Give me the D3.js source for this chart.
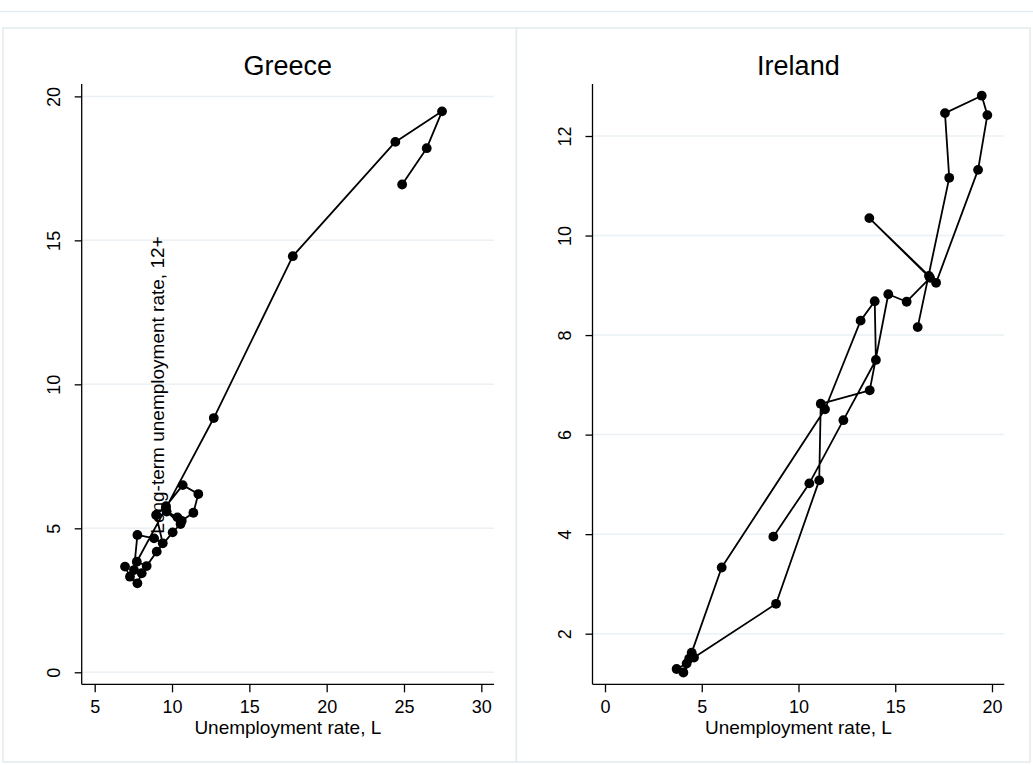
<!DOCTYPE html>
<html>
<head>
<meta charset="utf-8">
<script src="https://cdn.jsdelivr.net/npm/d3@7"></script>
<style>
  html, body { margin: 0; padding: 0; background: #ffffff; }
  svg { display: block; }
  text { font-family: "Liberation Sans", Arial, Helvetica, sans-serif; fill: #000; }
</style>
</head>
<body>
<svg id="chart" width="1033" height="765"></svg>
<script>
// Long-term unemployment (12+ months) against lagged unemployment rate
const greeceUnemp = [6.96, 7.28, 7.76, 8.04, 7.54, 7.76, 8.84, 9.40, 8.97, 9.61, 10.69, 11.70, 11.38, 10.63, 10.35, 9.65, 10.55, 10.04, 9.01, 8.36, 7.72, 9.60, 12.70, 17.81, 24.44, 27.46, 26.47, 24.88];
const greeceLTU   = [3.67, 3.32, 3.09, 3.44, 3.55, 4.77, 4.65, 4.48, 5.46, 5.77, 6.50, 6.19, 5.54, 5.26, 5.38, 5.58, 5.15, 4.86, 4.19, 3.69, 3.84, 5.70, 8.83, 14.45, 18.42, 19.48, 18.20, 16.94];

const irelandUnemp = [16.16, 17.79, 17.57, 19.47, 19.76, 19.28, 17.11, 16.74, 13.66, 16.80, 15.59, 14.64, 13.68, 11.15, 11.07, 8.84, 4.60, 4.05, 3.70, 4.22, 4.35, 4.48, 6.03, 11.37, 13.21, 13.94, 14.00, 12.32, 10.56, 8.70];
const irelandLTU   = [8.16, 11.16, 12.46, 12.81, 12.42, 11.32, 9.05, 9.19, 10.35, 9.15, 8.67, 8.82, 6.89, 6.62, 5.08, 2.60, 1.52, 1.22, 1.29, 1.40, 1.50, 1.62, 3.33, 6.51, 8.29, 8.68, 7.50, 6.29, 5.02, 3.95];

const greeceXTicks = [5, 10, 15, 20, 25, 30];
const greeceYTicks = [0, 5, 10, 15, 20];
const irelandXTicks = [0, 5, 10, 15, 20];
const irelandYTicks = [2, 4, 6, 8, 10, 12];

const xTitle = "Unemployment rate, L";
const yTitle = "Long-term unemployment rate, 12+";

const svg = d3.select("#chart");

// outer graph region
svg.append("line").attr("x1", 0).attr("x2", 1033).attr("y1", 11.5).attr("y2", 11.5)
  .attr("stroke", "#e6edf1").attr("stroke-width", 1.5);

const panels = [
  { name: "Greece", x: greeceUnemp, y: greeceLTU, xTicks: greeceXTicks, yTicks: greeceYTicks,
    box: [3, 28, 516.5, 762], plot: [81.7, 84, 494, 684.3],
    xDom: [4.159, 30.82], yDom: [-0.417, 20.43], yTitle: true },
  { name: "Ireland", x: irelandUnemp, y: irelandLTU, xTicks: irelandXTicks, yTicks: irelandYTicks,
    box: [516.5, 28, 1030, 762], plot: [592.5, 84, 1004.3, 684.3],
    xDom: [-0.646, 20.636], yDom: [0.983, 13.045], yTitle: false }
];

panels.forEach(p => {
  const [bx0, by0, bx1, by1] = p.box;
  const [px0, py0, px1, py1] = p.plot;
  const g = svg.append("g");

  g.append("rect").attr("x", bx0).attr("y", by0).attr("width", bx1 - bx0).attr("height", by1 - by0)
    .attr("fill", "#ffffff").attr("stroke", "#e3eaee").attr("stroke-width", 1.5);

  const x = d3.scaleLinear().domain(p.xDom).range([px0, px1]);
  const y = d3.scaleLinear().domain(p.yDom).range([py1, py0]);

  // horizontal grid
  g.append("g").selectAll("line").data(p.yTicks).join("line")
    .attr("x1", px0).attr("x2", px1)
    .attr("y1", d => y(d)).attr("y2", d => y(d))
    .attr("stroke", "#eaf0f3").attr("stroke-width", 1.5);

  // axes
  const xAxis = g.append("g").attr("transform", `translate(0,${py1})`)
    .call(d3.axisBottom(x).tickValues(p.xTicks).tickSize(8).tickPadding(5).tickFormat(d3.format("d")));
  const yAxis = g.append("g").attr("transform", `translate(${px0},0)`)
    .call(d3.axisLeft(y).tickValues(p.yTicks).tickSize(7).tickPadding(6).tickFormat(d3.format("d")));

  [xAxis, yAxis].forEach(a => {
    a.select(".domain").attr("stroke", "#000").attr("stroke-width", 1.3);
    a.selectAll(".tick line").attr("stroke", "#000").attr("stroke-width", 1.3);
    a.selectAll(".tick text").attr("font-size", 18).attr("fill", "#000")
      .attr("font-family", "'Liberation Sans', Arial, sans-serif");
  });
  xAxis.select(".domain").attr("d", `M${px0},0H${px1}`);
  yAxis.select(".domain").attr("d", `M0,${py0}V${py1}`);

  // rotated y tick labels
  yAxis.selectAll(".tick text")
    .attr("transform", "rotate(-90)")
    .attr("x", 0).attr("y", -22).attr("dy", 0)
    .attr("text-anchor", "middle");
  xAxis.selectAll(".tick text").attr("dy", "0.9em");

  // titles
  g.append("text").attr("x", (px0 + px1) / 2).attr("y", 75)
    .attr("text-anchor", "middle").attr("font-size", 27).text(p.name);
  g.append("text").attr("x", (px0 + px1) / 2).attr("y", 734)
    .attr("text-anchor", "middle").attr("font-size", 19).text(xTitle);
  if (p.yTitle) {
    g.append("text").attr("transform", `translate(164,385) rotate(-90)`)
      .attr("text-anchor", "middle").attr("font-size", 19).text(yTitle);
  }

  // connected series
  const pts = p.x.map((v, i) => [v, p.y[i]]);
  g.append("path").datum(pts)
    .attr("fill", "none").attr("stroke", "#000").attr("stroke-width", 1.8)
    .attr("stroke-linejoin", "round")
    .attr("d", d3.line().x(d => x(d[0])).y(d => y(d[1])));
  g.append("g").selectAll("circle").data(pts).join("circle")
    .attr("cx", d => x(d[0])).attr("cy", d => y(d[1])).attr("r", 4.9).attr("fill", "#000");
});
</script>
</body>
</html>
